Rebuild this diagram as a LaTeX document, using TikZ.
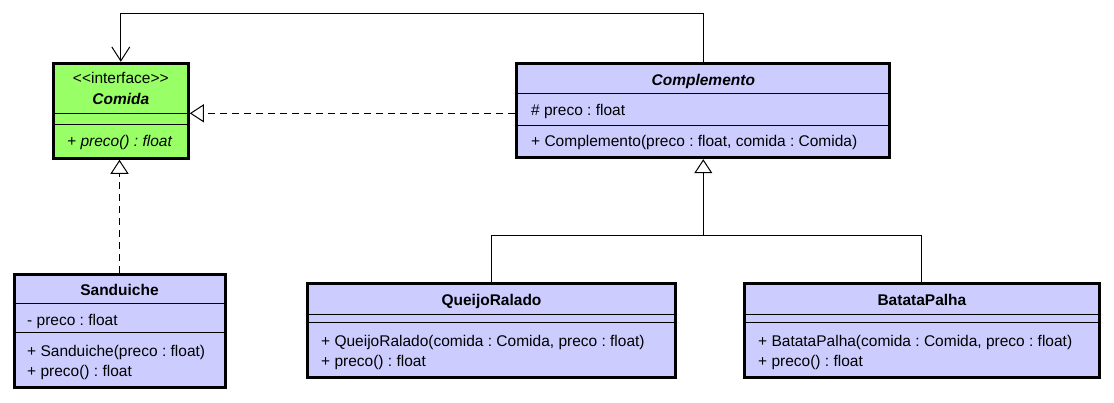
\documentclass[tikz,border=0pt]{standalone}
\usepackage{fontspec}
\setmainfont{Liberation Sans}
\usetikzlibrary{arrows.meta}
\definecolor{ifgreen}{RGB}{153,255,102}
\definecolor{clsblue}{RGB}{204,204,255}
\frenchspacing
\begin{document}
\begin{tikzpicture}[x=1pt,y=-1pt,
  umlbox/.style={draw, line width=3pt, inner sep=0pt, outer sep=1.5pt, fill=clsblue},
  sepline/.style={line width=1pt},
  lbl/.style={inner sep=0pt, font=\fontsize{15.5}{18}\selectfont},
  conn/.style={line width=1pt},
  realize/.style={conn, dash pattern=on 7pt off 5pt, -{Triangle[open, length=14pt, width=18pt]}},
  general/.style={conn, -{Triangle[open, length=14pt, width=18pt]}},
  navig/.style={conn, -{Straight Barb[length=14pt, width=18pt]}}
]
\useasboundingbox (0,0) rectangle (1114,402);
\fill[white] (0,0) rectangle (1114,402);

% boxes
\node[umlbox, fill=ifgreen, minimum width=135pt, minimum height=95pt] (comida) at (120.8,110.8) {};
\node[umlbox, minimum width=373.3pt, minimum height=94.4pt] (complemento) at (703.3,110.5) {};
\node[umlbox, minimum width=211pt, minimum height=113pt] (sanduiche) at (119.5,330.5) {};
\node[umlbox, minimum width=367.6pt, minimum height=94.2pt] (queijo) at (491.5,330.4) {};
\node[umlbox, minimum width=355.2pt, minimum height=94.2pt] (batata) at (921.9,330.4) {};

% separators
\draw[sepline] (comida.west |- 0,113.3) -- (comida.east |- 0,113.3);
\draw[sepline] (comida.west |- 0,124.3) -- (comida.east |- 0,124.3);
\draw[sepline] (complemento.west |- 0,93.3) -- (complemento.east |- 0,93.3);
\draw[sepline] (complemento.west |- 0,125) -- (complemento.east |- 0,125);
\draw[sepline] (sanduiche.west |- 0,303.3) -- (sanduiche.east |- 0,303.3);
\draw[sepline] (sanduiche.west |- 0,332.7) -- (sanduiche.east |- 0,332.7);
\draw[sepline] (queijo.west |- 0,314) -- (queijo.east |- 0,314);
\draw[sepline] (queijo.west |- 0,322.7) -- (queijo.east |- 0,322.7);
\draw[sepline] (batata.west |- 0,314) -- (batata.east |- 0,314);
\draw[sepline] (batata.west |- 0,322.7) -- (batata.east |- 0,322.7);

% texts
\node[lbl, anchor=base] (comidaSt) at (120.8,83.3) {<\kern0pt<interface>\kern0pt>};
\node[lbl, anchor=base] (comidaT) at (120.8,104) {\bfseries\itshape Comida};
\node[lbl, anchor=base west] (comidaM) at (67,146.7) {\itshape + preco() : float};

\node[lbl, anchor=base] (complT) at (703.3,85) {\bfseries\itshape Complemento};
\node[lbl, anchor=base west] (complA) at (531,115) {\# preco : float};
\node[lbl, anchor=base west] (complM) at (531,146.7) {+ Complemento(preco : float, comida : Comida)};

\node[lbl, anchor=base] (sandT) at (119.5,295) {\bfseries Sanduiche};
\node[lbl, anchor=base west] (sandA) at (27,325) {- preco : float};
\node[lbl, anchor=base west] (sandM1) at (27,356.7) {+ Sanduiche(preco : float)};
\node[lbl, anchor=base west] (sandM2) at (27,376.7) {+ preco() : float};

\node[lbl, anchor=base] (queijoT) at (491.5,305) {\bfseries QueijoRalado};
\node[lbl, anchor=base west] (queijoM1) at (321,346.7) {+ QueijoRalado(comida : Comida, preco : float)};
\node[lbl, anchor=base west] (queijoM2) at (321,366.7) {+ preco() : float};

\node[lbl, anchor=base] (batataT) at (921.9,305) {\bfseries BatataPalha};
\node[lbl, anchor=base west] (batataM1) at (758,346.7) {+ BatataPalha(comida : Comida, preco : float)};
\node[lbl, anchor=base west] (batataM2) at (758,366.7) {+ preco() : float};

% connectors
\draw[navig] (complemento.north) -- (complemento.north |- 0,13.3) -| (comida.north);
\draw[realize] (complemento.west |- 0,113.3) -- (comida.east |- 0,113.3);
\draw[realize] (sanduiche.north) -- (sanduiche.north |- comida.south);
\coordinate (junction) at (703.3,235);
\draw[conn] (queijo.north) |- (junction);
\draw[conn] (batata.north) |- (junction);
\draw[general] (junction) -- (complemento.south);
\end{tikzpicture}
\end{document}
